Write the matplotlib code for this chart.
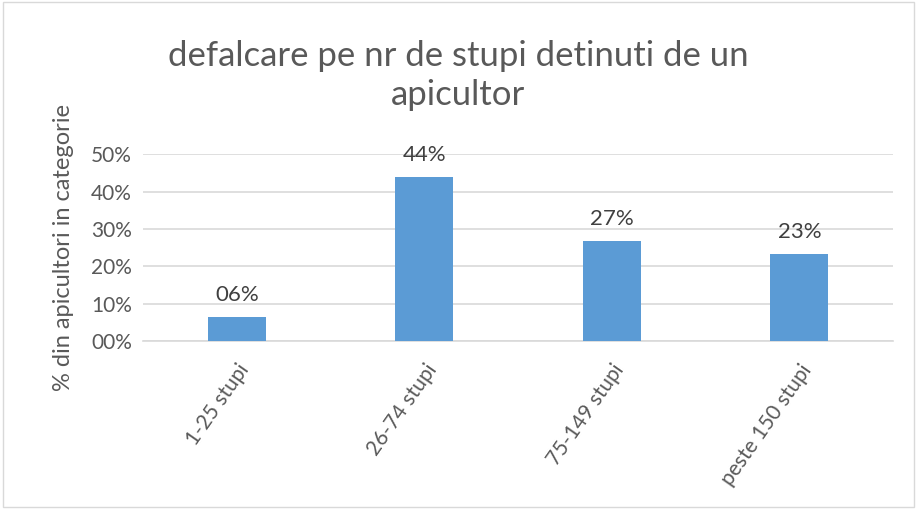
import matplotlib
matplotlib.use("Agg")
import matplotlib.pyplot as plt
from matplotlib.ticker import FuncFormatter, MultipleLocator
from matplotlib.patches import Rectangle

categories = ["1-25 stupi", "26-74 stupi", "75-149 stupi", "peste 150 stupi"]
values = [0.064, 0.44, 0.268, 0.232]
title = "defalcare pe nr de stupi detinuti de un\napicultor"
ylabel = "% din apicultori in categorie"

plt.rcParams["font.family"] = ["Lato", "DejaVu Sans"]
txt = "#595959"

fig = plt.figure(figsize=(9.17, 5.09), dpi=100)
ax = fig.add_axes([0.156, 0.330, 0.818, 0.367])
fig.patches.append(Rectangle((0.003, 0.003), 0.994, 0.994, transform=fig.transFigure,
                             fill=False, edgecolor="#d9d9d9", lw=1))

x = range(len(categories))
bars = ax.bar(x, values, width=0.31, color="#5B9BD5", zorder=3)
for b, v in zip(bars, values):
    ax.text(b.get_x() + b.get_width() / 2, v + 0.032, f"{round(v * 100):02d}%",
            ha="center", va="bottom", fontsize=16, color="#404040")

ax.set_xlim(-0.5, len(categories) - 0.5)
ax.set_ylim(0, 0.5)
ax.yaxis.set_major_locator(MultipleLocator(0.1))
ax.yaxis.set_major_formatter(FuncFormatter(lambda v, p: f"{round(v * 100):02d}%"))
ax.grid(axis="y", color="#d9d9d9", lw=1.2, zorder=0)
for s in ["top", "right", "left"]:
    ax.spines[s].set_visible(False)
ax.spines["bottom"].set_color("#d9d9d9")
ax.spines["bottom"].set_linewidth(1.2)
ax.tick_params(axis="y", length=0, labelsize=15, colors=txt, pad=8)
ax.tick_params(axis="x", length=0, labelsize=15, colors=txt, pad=14)
ax.set_xticks(list(x))
ax.set_xticklabels(categories, rotation=55, ha="right", rotation_mode="anchor")
ax.set_ylabel(ylabel, fontsize=17, color=txt, labelpad=12)
fig.text(0.5, 0.852, title, ha="center", va="center", fontsize=25, color=txt, linespacing=1.25)

fig.savefig("out.png", dpi=100)
